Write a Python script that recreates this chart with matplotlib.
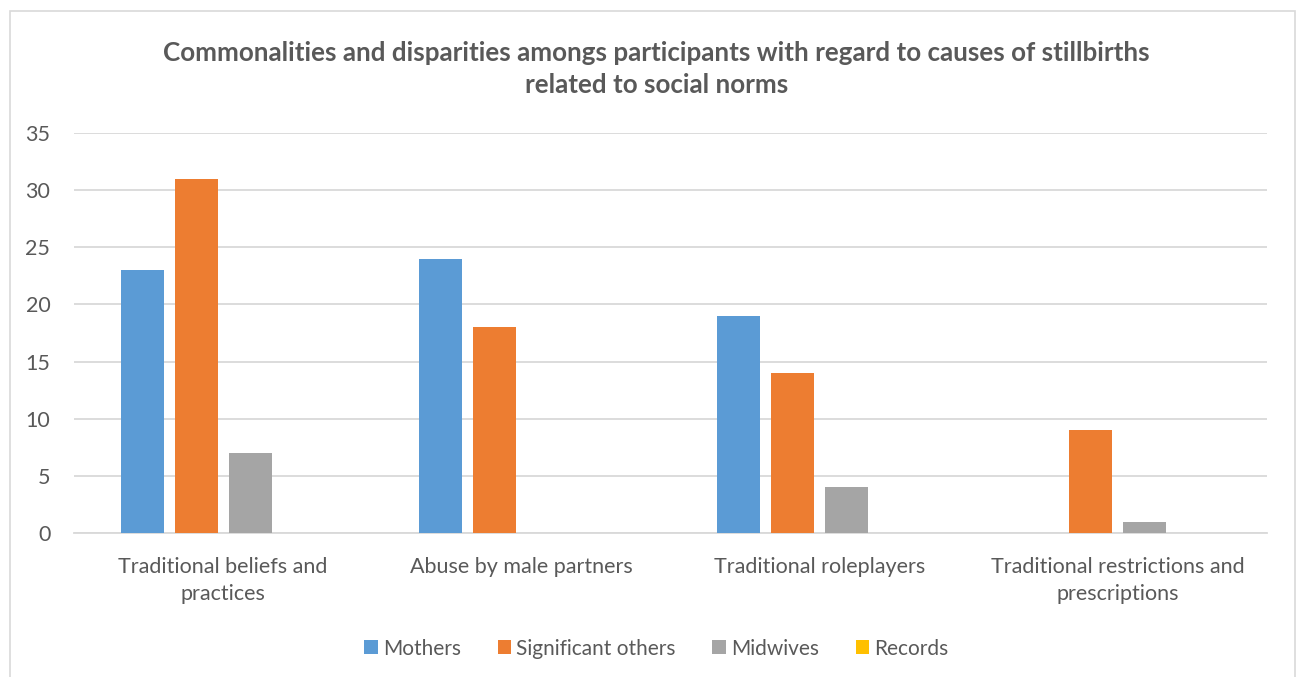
import matplotlib.pyplot as plt
import numpy as np
from matplotlib.patches import Rectangle

categories = [
    "Traditional beliefs and\npractices",
    "Abuse by male partners",
    "Traditional roleplayers",
    "Traditional restrictions and\nprescriptions",
]
series_names = ["Mothers", "Significant others", "Midwives", "Records"]
mothers = [23, 24, 19, 0]
significant_others = [31, 18, 14, 9]
midwives = [7, 0, 4, 1]
records = [0, 0, 0, 0]

colors = ["#5b9bd5", "#ed7d31", "#a5a5a5", "#ffc000"]
text_color = "#595959"
grid_color = "#d9d9d9"

plt.rcParams["font.family"] = ["Lato", "DejaVu Sans"]

fig = plt.figure(figsize=(13, 6.77), dpi=100)
ax = fig.add_axes([0.0569, 0.2127, 0.9177, 0.5908])

x = np.arange(len(categories))
bar_w = 0.144
step = 0.181
offsets = (np.arange(4) - 1.5) * step

for vals, name, col, off in zip(
    [mothers, significant_others, midwives, records], series_names, colors, offsets
):
    ax.bar(x + off, vals, width=bar_w, color=col, label=name, zorder=3)

ax.set_xlim(-0.5, 3.5)
ax.set_ylim(0, 35)
ax.set_yticks(range(0, 36, 5))
ax.set_xticks(x)
ax.set_xticklabels(categories, linespacing=1.45)
ax.yaxis.grid(True, color=grid_color, linewidth=1.3, zorder=0)
ax.tick_params(axis="both", length=0, labelsize=15.5, colors=text_color)
ax.tick_params(axis="x", pad=17)
ax.tick_params(axis="y", pad=17)
for side in ["top", "right", "left"]:
    ax.spines[side].set_visible(False)
ax.spines["bottom"].set_color(grid_color)
ax.spines["bottom"].set_linewidth(1.3)

fig.text(
    0.505, 0.898,
    "Commonalities and disparities amongs participants with regard to causes of stillbirths\nrelated to social norms",
    ha="center", va="center", fontsize=18.7, fontweight="bold",
    color=text_color, linespacing=1.38,
)

fig.legend(
    loc="center", bbox_to_anchor=(0.505, 0.042), ncol=4, frameon=False,
    fontsize=15, labelcolor=text_color, handlelength=0.65, handleheight=0.65,
    handletextpad=0.25, columnspacing=1.75,
)

# outer chart frame
fig.patches.append(Rectangle(
    (10 / 1300, -0.01), 1285 / 1300, 1 - 11 / 677 + 0.01,
    transform=fig.transFigure, fill=False, edgecolor=grid_color, linewidth=1.2,
))

fig.savefig("out.png", dpi=100)
